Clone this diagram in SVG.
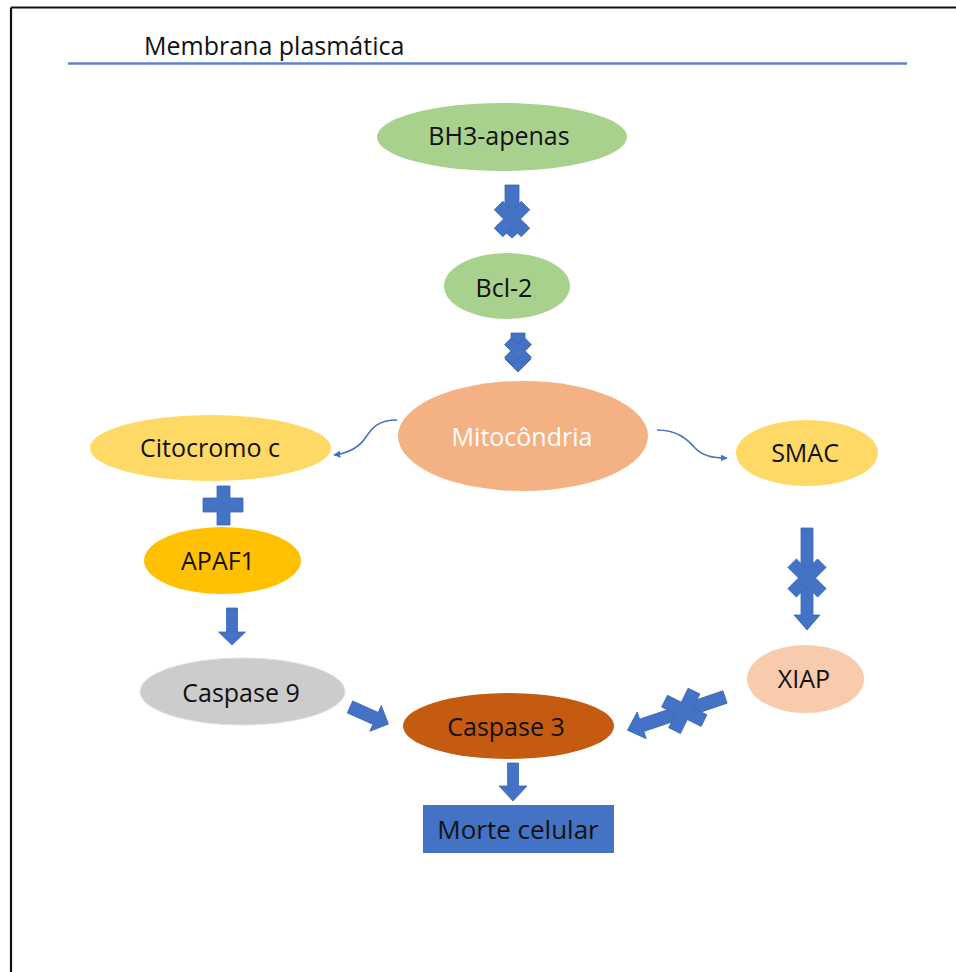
<svg xmlns="http://www.w3.org/2000/svg" width="956" height="972" viewBox="0 0 956 972">
<defs>
<style>
.t{font-family:"Open Sans","Noto Sans","DejaVu Sans",sans-serif;font-size:25px;fill:#111;text-anchor:middle}
.w{fill:#ffffff}
.blk{fill:#4472c4;stroke:#3a65b5;stroke-width:0.8;stroke-linejoin:miter}
.cv{fill:none;stroke:#4472c4;stroke-width:1.6}
</style>
<marker id="ah" viewBox="0 0 10 10" refX="9" refY="5" markerWidth="7" markerHeight="7" orient="auto" markerUnits="userSpaceOnUse">
<path d="M0,0 L10,5 L0,10 Z" fill="#4472c4"/>
</marker>
</defs>
<rect x="0" y="0" width="956" height="972" fill="#ffffff"/>
<g id="frame">
<line x1="11" y1="7.5" x2="956" y2="7.5" stroke="#111" stroke-width="2.2"/>
<line x1="11" y1="7.5" x2="11" y2="972" stroke="#111" stroke-width="2.2"/>
</g>
<g id="membrana">
<line x1="68" y1="63.5" x2="907" y2="63.5" stroke="#5b82cc" stroke-width="2.4"/>
<text class="t" x="144" y="55" style="text-anchor:start">Membrana plasmática</text>
</g>
<g id="bh3">
<ellipse cx="502" cy="137" rx="125" ry="34" fill="#a9d18e"/>
<text class="t" x="499" y="145">BH3-apenas</text>
</g>
<g id="bcl2">
<ellipse cx="507" cy="286" rx="63" ry="33" fill="#a9d18e"/>
<text class="t" x="504" y="297">Bcl-2</text>
</g>
<g id="mito">
<ellipse cx="523" cy="436" rx="125" ry="55" fill="#f4b183"/>
<text class="t w" x="522" y="446">Mitocôndria</text>
</g>
<g id="citocromo">
<ellipse cx="210.5" cy="448" rx="120.5" ry="33" fill="#ffd966"/>
<text class="t" x="210" y="457">Citocromo c</text>
</g>
<g id="smac">
<ellipse cx="807" cy="453" rx="71" ry="33" fill="#ffd966"/>
<text class="t" x="805" y="462">SMAC</text>
</g>
<g id="apaf1">
<ellipse cx="222.5" cy="560.5" rx="78.5" ry="33.5" fill="#ffc000"/>
<text class="t" x="218" y="570">APAF1</text>
</g>
<g id="caspase9">
<ellipse cx="242.5" cy="691.5" rx="102.5" ry="33.5" fill="#cccccc" stroke="#dde3ee" stroke-width="1"/>
<text class="t" x="241" y="702">Caspase 9</text>
</g>
<g id="xiap">
<ellipse cx="805.5" cy="679" rx="58.5" ry="34" fill="#f8cbad"/>
<text class="t" x="804" y="688">XIAP</text>
</g>
<g id="caspase3">
<ellipse cx="508.5" cy="726" rx="105.5" ry="33" fill="#c55a11"/>
<text class="t" x="506" y="736">Caspase 3</text>
</g>
<g id="morte">
<rect x="423" y="805" width="191" height="48" fill="#4472c4"/>
<text class="t" x="518" y="839" style="font-size:26px">Morte celular</text>
</g>
<g id="connectors">
<!-- BH3 -> Bcl-2 blocked -->
<g transform="translate(512,185)">
<polygon class="blk" points="-7,0 7,0 7,40 15,40 0,53 -15,40 -7,40"/>
<polygon class="blk" transform="translate(0,34) rotate(45)" points="-6,-19 6,-19 6,-6 19,-6 19,6 6,6 6,19 -6,19 -6,6 -19,6 -19,-6 -6,-6"/>
</g>
<!-- Bcl-2 -> Mito blocked -->
<g transform="translate(518,333)">
<polygon class="blk" points="-7,0 7,0 7,26 13,26 0,39 -13,26 -7,26"/>
<polygon class="blk" transform="translate(0,18) rotate(45)" points="-5,-14 5,-14 5,-5 14,-5 14,5 5,5 5,14 -5,14 -5,5 -14,5 -14,-5 -5,-5"/>
</g>
<!-- Mito -> Citocromo -->
<path class="cv" d="M397,420 C378,420 372,428 366,437 C359,448 349,453 334,455" marker-end="url(#ah)"/>
<!-- Mito -> SMAC -->
<path class="cv" d="M657,430 C678,430 688,440 695,448 C703,456 712,458 727,458" marker-end="url(#ah)"/>
<!-- Plus -->
<polygon class="blk" points="217,486 230,486 230,498 243,498 243,512 230,512 230,525 217,525 217,512 203,512 203,498 217,498"/>
<!-- APAF1 -> Caspase 9 -->
<polygon class="blk" points="226.5,608 237.5,608 237.5,632 245.5,632 232,645 218.5,632 226.5,632"/>
<!-- SMAC -> XIAP blocked -->
<g transform="translate(807,528)">
<polygon class="blk" points="-6,0 6,0 6,87 13,87 0,102 -13,87 -6,87"/>
<polygon class="blk" transform="translate(0,50) rotate(45)" points="-6,-21 6,-21 6,-6 21,-6 21,6 6,6 6,21 -6,21 -6,6 -21,6 -21,-6 -6,-6"/>
</g>
<!-- Caspase 9 -> Caspase 3 -->
<g transform="translate(350,707) rotate(24)">
<polygon class="blk" points="0,-6.5 28,-6.5 28,-14 42,0 28,14 28,6.5 0,6.5"/>
</g>
<!-- XIAP -> Caspase 3 blocked -->
<g transform="translate(725,697) rotate(161.2)">
<polygon class="blk" points="0,-6.5 88,-6.5 88,-14 103,0 88,14 88,6.5 0,6.5"/>
<polygon class="blk" transform="translate(43,0) rotate(45)" points="-6.5,-22 6.5,-22 6.5,-6.5 22,-6.5 22,6.5 6.5,6.5 6.5,22 -6.5,22 -6.5,6.5 -22,6.5 -22,-6.5 -6.5,-6.5"/>
</g>
<!-- Caspase 3 -> Morte -->
<polygon class="blk" points="507.5,763 518.5,763 518.5,786 527,786 513,801 499,786 507.5,786"/>
</g>
</svg>
